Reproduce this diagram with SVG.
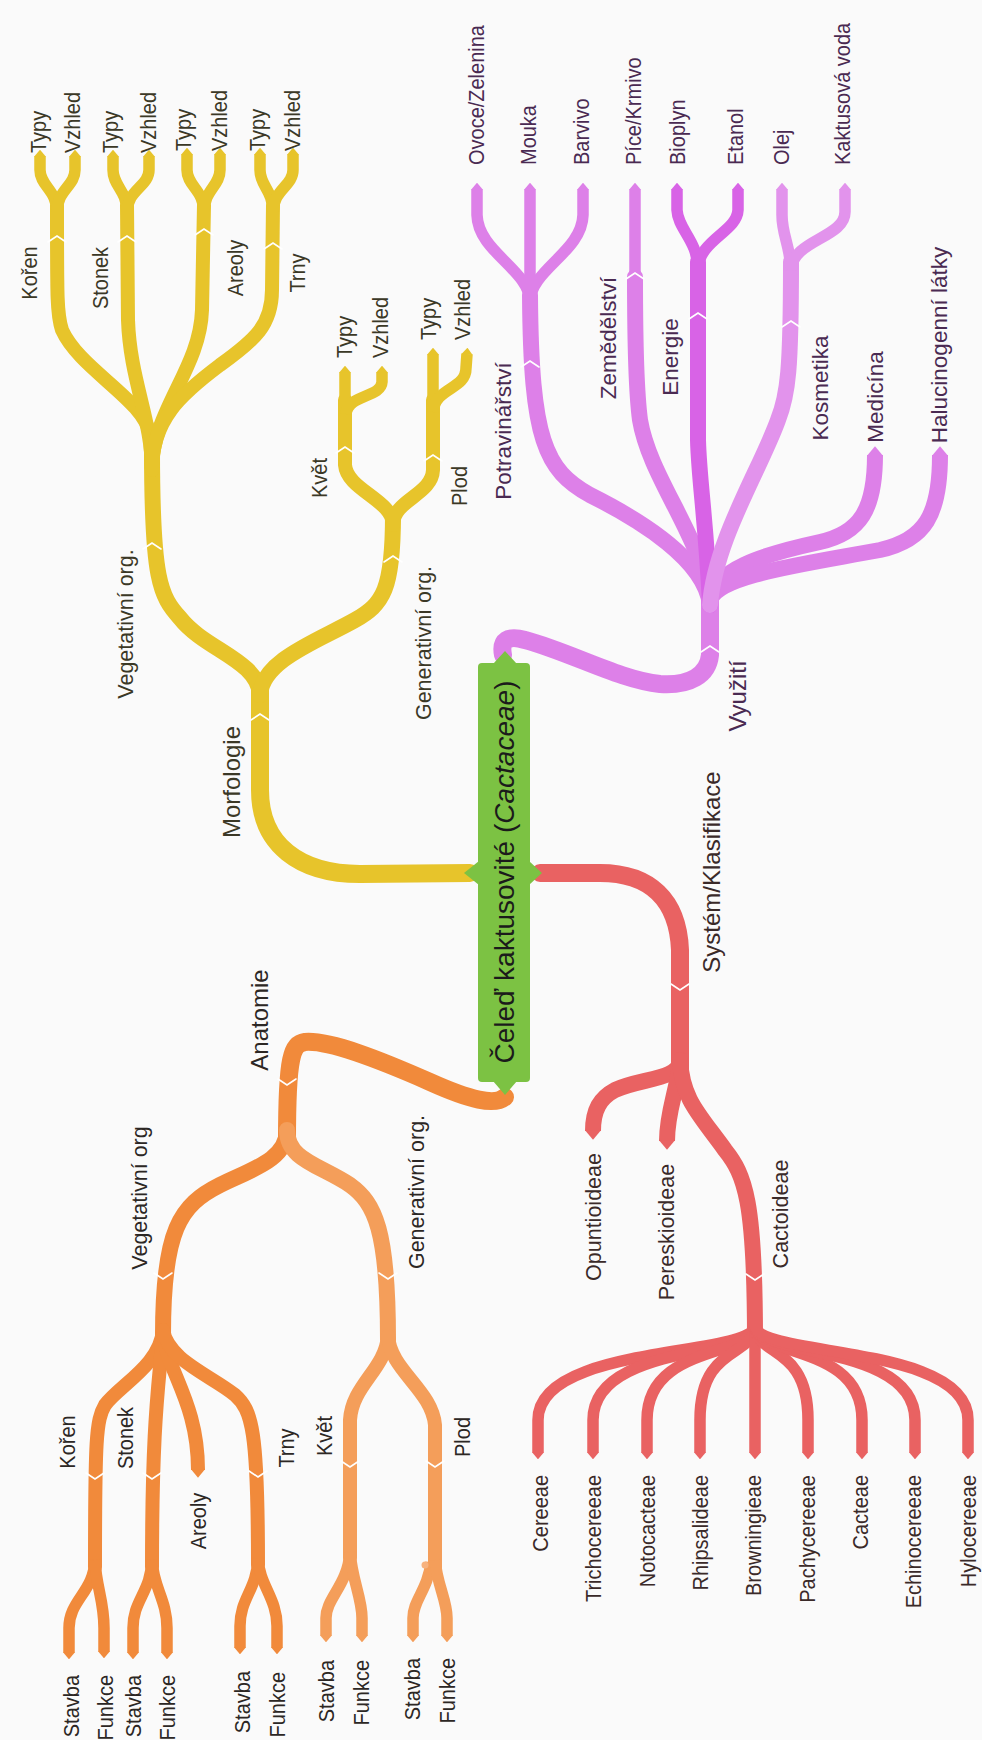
<svg xmlns="http://www.w3.org/2000/svg" xmlns:xlink="http://www.w3.org/1999/xlink" width="982" height="1740" viewBox="0 0 982 1740">
  <defs>
    <style>
      text { font-family: "Liberation Sans", Arial, sans-serif; dominant-baseline: central; }
      .t0 { font-size: 28px; text-anchor: middle; fill: #1b1b1b; }
      .t1 { font-size: 24px; text-anchor: middle; }
      .t2 { font-size: 21.5px; text-anchor: middle; }
      .t2v { font-size: 22.5px; text-anchor: middle; }
      .t3 { font-size: 20px; text-anchor: middle; }
      .ts { font-size: 20px; text-anchor: start; }
      .te { font-size: 20px; text-anchor: end; }
      .yt { fill: #3b3826; }
      .pt { fill: #4a2a52; }
      .ot { fill: #2c2724; }
      .rt { fill: #3a2a29; }
      .w1 { stroke-width: 18; }
      .w2 { stroke-width: 16; }
      .w3 { stroke-width: 14; }
      .w4 { stroke-width: 11.5; }
      .lf { stroke-linecap: butt; }
      .yel { stroke: #E7C42B; }
      .pur { stroke: #DD80E8; }
      .pur2 { stroke: #D863E6; }
      .pur3 { stroke: #E293EC; }
      .ora { stroke: #F18A3B; }
      .ora2 { stroke: #F49E5A; }
      .red { stroke: #E96262; }
      .yel .lf { marker-end: url(#tipY); }
      .pur .lf { marker-end: url(#tipP); }
      .pur2 .lf { marker-end: url(#tipP2); }
      .pur3 .lf { marker-end: url(#tipP3); }
      .ora .lf { marker-end: url(#tipO); }
      .ora2 .lf { marker-end: url(#tipO2); }
      .red .lf { marker-end: url(#tipR); }
      .sep { fill: none; stroke: #ffffff; stroke-width: 1.6; stroke-linejoin: miter; }
    </style>
    <!-- pointed branch ends -->
    <marker id="tipY" viewBox="0 -5 6 10" refX="0.5" refY="0" markerWidth="0.6" markerHeight="1" orient="auto"><path d="M0 -5 L6 0 L0 5 Z" fill="#E7C42B"/></marker>
    <marker id="tipP" viewBox="0 -5 6 10" refX="0.5" refY="0" markerWidth="0.6" markerHeight="1" orient="auto"><path d="M0 -5 L6 0 L0 5 Z" fill="#DD80E8"/></marker>
    <marker id="tipP2" viewBox="0 -5 6 10" refX="0.5" refY="0" markerWidth="0.6" markerHeight="1" orient="auto"><path d="M0 -5 L6 0 L0 5 Z" fill="#D863E6"/></marker>
    <marker id="tipP3" viewBox="0 -5 6 10" refX="0.5" refY="0" markerWidth="0.6" markerHeight="1" orient="auto"><path d="M0 -5 L6 0 L0 5 Z" fill="#E293EC"/></marker>
    <marker id="tipO" viewBox="0 -5 6 10" refX="0.5" refY="0" markerWidth="0.6" markerHeight="1" orient="auto"><path d="M0 -5 L6 0 L0 5 Z" fill="#F18A3B"/></marker>
    <marker id="tipO2" viewBox="0 -5 6 10" refX="0.5" refY="0" markerWidth="0.6" markerHeight="1" orient="auto"><path d="M0 -5 L6 0 L0 5 Z" fill="#F49E5A"/></marker>
    <marker id="tipR" viewBox="0 -5 6 10" refX="0.5" refY="0" markerWidth="0.6" markerHeight="1" orient="auto"><path d="M0 -5 L6 0 L0 5 Z" fill="#E96262"/></marker>
    <!-- node separators -->
    <path id="up" d="M-9 4 L0 -2 L9 4"/>
    <path id="dn" d="M-9 -4 L0 2 L9 -4"/>
  </defs>

  <rect width="982" height="1740" fill="#FAFAFA"/>

  <!-- branches -->
  <g id="connectors" fill="none" stroke-linecap="round" stroke-linejoin="round">
    <!-- Morfologie -->
    <g class="yel">
      <path class="w1" d="M470 873 L360 874 C300 874 260 845 260 790 L260 690"/>
      <path class="w2" d="M260 695 C258 660 205 650 180 618 C160 596 152 580 152 450"/>
      <path class="w2" d="M260 695 C262 660 320 640 355 620 C383 604 393 590 393 515"/>
      <path class="w3" d="M152 470 L150 435 C145 400 80 370 62 330 C57 315 57 300 57 205"/>
      <path class="w3" d="M152 470 C152 420 130 380 128 320 L127 205"/>
      <path class="w3" d="M152 470 C152 410 200 370 202 310 L204 205"/>
      <path class="w3" d="M152 470 C152 420 180 395 220 365 C255 340 272 325 272 290 L273 205"/>
      <path class="w4 lf" d="M57 212 C57 190 40 186 40 170 L40 156"/>
      <path class="w4 lf" d="M57 212 C57 190 75 186 75 170 L75 156"/>
      <path class="w4 lf" d="M127 212 C127 190 113 186 113 170 L113 156"/>
      <path class="w4 lf" d="M127 212 C127 190 149 186 149 170 L149 156"/>
      <path class="w4 lf" d="M204 212 C204 190 187 186 187 170 L187 154"/>
      <path class="w4 lf" d="M204 212 C204 190 220 186 220 170 L220 154"/>
      <path class="w4 lf" d="M273 212 C273 190 260 186 260 170 L260 154"/>
      <path class="w4 lf" d="M273 212 C273 190 293 186 293 170 L293 154"/>
      <path class="w3" d="M393 525 C393 500 347 490 345 465 L345 400"/>
      <path class="w3" d="M393 525 C393 500 432 495 433 470 L433 400"/>
      <path class="w4 lf" d="M345 410 L345 372"/>
      <path class="w4 lf" d="M346 414 C348 394 381 398 382 382 L382 372"/>
      <path class="w4 lf" d="M433 405 L433 354"/>
      <path class="w4 lf" d="M433 412 C435 387 466 390 466 368 L467 354"/>
    </g>
    <!-- Využití -->
    <g class="pur">
      <path class="w1" d="M503 655 C500 640 508 635 525 640 C570 652 620 680 660 684 C690 686 708 675 710 655 L710 590"/>
      <path class="w2" d="M710 605 C705 560 640 520 590 495 C545 470 531 440 530 295"/>
      <path class="w2" d="M710 605 C705 540 650 480 640 420 C636 390 635 350 635 277"/>
      <path class="w4 lf" d="M635 280 L635 189"/>
      <path class="w2 lf" d="M710 600 C715 570 760 555 820 542 C860 533 875 510 875 455"/>
      <path class="w2 lf" d="M710 600 C720 575 800 565 880 550 C925 540 940 515 940 455"/>
      <path class="w4 lf" d="M530 302 C530 270 478 252 477 215 L477 189"/>
      <path class="w4 lf" d="M530 302 L530 189"/>
      <path class="w4 lf" d="M530 302 C530 270 582 252 583 215 L583 189"/>
    </g>
    <g class="pur2">
      <path class="w2" d="M710 605 C706 520 699 480 698 440 L698 262"/>
      <path class="w4 lf" d="M698 270 C698 240 678 230 677 210 L677 189"/>
      <path class="w4 lf" d="M698 270 C698 240 737 232 738 210 L738 189"/>
    </g>
    <g class="pur3">
      <path class="w2" d="M710 605 C715 540 760 470 778 420 C788 395 791 370 791 262"/>
      <path class="w4 lf" d="M791 270 C790 245 782 235 782 215 L782 189"/>
      <path class="w4 lf" d="M791 270 C792 240 845 238 845 212 L845 189"/>
    </g>
    <!-- Anatomie -->
    <g class="ora">
      <path class="w1" d="M505 1097 C495 1106 470 1100 430 1082 C380 1060 330 1040 305 1042 C292 1044 287 1055 287 1140"/>
      <path class="w2" d="M287 1130 C287 1160 250 1170 220 1185 C180 1205 163 1230 163 1335"/>
      <path class="w3" d="M163 1330 C160 1365 120 1385 105 1405 C96 1420 95 1440 95 1567"/>
      <path class="w3" d="M163 1330 C160 1380 152 1410 152 1567"/>
      <path class="w3 lf" d="M163 1330 C165 1370 198 1400 198 1470"/>
      <path class="w3" d="M163 1330 C168 1360 210 1375 235 1395 C252 1410 258 1430 258 1565"/>
      <path class="w4 lf" d="M95 1560 C94 1592 69 1600 69 1628 L69 1653"/>
      <path class="w4 lf" d="M95 1560 C96 1587 104 1600 104 1628 L104 1652"/>
      <path class="w4 lf" d="M152 1560 C151 1592 133 1600 133 1628 L133 1653"/>
      <path class="w4 lf" d="M152 1560 C153 1587 167 1600 167 1628 L167 1653"/>
      <path class="w4 lf" d="M258 1558 C257 1590 240 1598 240 1626 L240 1648"/>
      <path class="w4 lf" d="M258 1558 C259 1585 277 1598 277 1626 L277 1648"/>
    </g>
    <g class="ora2">
      <path class="w2" d="M287 1130 C287 1160 320 1165 350 1185 C375 1203 388 1230 388 1340"/>
      <path class="w3" d="M388 1336 C385 1370 352 1385 350 1420 L350 1558"/>
      <path class="w3" d="M388 1336 C390 1370 432 1390 435 1425 L435 1570"/>
      <path class="w4 lf" d="M350 1552 C348 1585 326 1598 326 1618 L326 1636"/>
      <path class="w4 lf" d="M350 1552 C352 1580 362 1598 362 1618 L362 1636"/>
      <path class="w4 lf" d="M431 1562 C428 1590 413 1600 413 1618 L413 1636"/>
      <path class="w4 lf" d="M435 1560 C437 1585 447 1600 447 1618 L447 1636"/>
    </g>
    <circle cx="425" cy="1565" r="3.5" fill="#F7B27E"/>
    <!-- Systém/Klasifikace -->
    <g class="red">
      <path class="w1" d="M540 873 L600 873 C650 873 678 900 680 950 L680 1075"/>
      <path class="w2 lf" d="M680 1060 C680 1080 640 1078 615 1090 C600 1098 593 1110 593 1131"/>
      <path class="w2 lf" d="M680 1060 C678 1090 667 1110 667 1141"/>
      <path class="w2" d="M680 1060 C682 1100 700 1115 725 1150 C745 1175 755 1200 755 1340"/>
      <path class="w4 lf" d="M755 1325 C755 1358 538 1343 538 1420 L538 1453"/>
      <path class="w4 lf" d="M755 1325 C755 1358 593 1343 593 1420 L593 1453"/>
      <path class="w4 lf" d="M755 1325 C755 1358 647 1343 647 1420 L647 1453"/>
      <path class="w4 lf" d="M755 1325 C755 1358 700 1343 700 1420 L700 1453"/>
      <path class="w4 lf" d="M755 1325 L755 1453"/>
      <path class="w4 lf" d="M755 1325 C755 1358 808 1343 808 1420 L808 1453"/>
      <path class="w4 lf" d="M755 1325 C755 1358 862 1343 862 1420 L862 1453"/>
      <path class="w4 lf" d="M755 1325 C755 1358 915 1343 915 1420 L915 1453"/>
      <path class="w4 lf" d="M755 1325 C755 1358 968 1343 968 1420 L968 1453"/>
    </g>
    <!-- node separators -->
    <g class="sep">
      <use xlink:href="#up" x="260" y="716"/>
      <use xlink:href="#up" x="152" y="545"/>
      <use xlink:href="#up" x="393" y="558"/>
      <use xlink:href="#up" x="57" y="238"/>
      <use xlink:href="#up" x="127" y="238"/>
      <use xlink:href="#up" x="204" y="231"/>
      <use xlink:href="#up" x="273" y="245"/>
      <use xlink:href="#up" x="345" y="449"/>
      <use xlink:href="#up" x="433" y="457"/>
      <use xlink:href="#up" x="710" y="648"/>
      <use xlink:href="#up" x="530" y="363"/>
      <use xlink:href="#up" x="635" y="275"/>
      <use xlink:href="#up" x="698" y="315"/>
      <use xlink:href="#up" x="791" y="323"/>
      <use xlink:href="#dn" x="287" y="1083"/>
      <use xlink:href="#dn" x="163" y="1277"/>
      <use xlink:href="#dn" x="388" y="1277"/>
      <use xlink:href="#dn" x="95" y="1477"/>
      <use xlink:href="#dn" x="152" y="1477"/>
      <use xlink:href="#dn" x="258" y="1475"/>
      <use xlink:href="#dn" x="350" y="1465"/>
      <use xlink:href="#dn" x="435" y="1465"/>
      <use xlink:href="#dn" x="680" y="988"/>
      <use xlink:href="#dn" x="755" y="1278"/>
    </g>
  </g>

  <!-- central topic -->
  <g id="root">
    <polygon points="479,861 464,873 479,885" fill="#7CC243"/>
    <polygon points="529,861 542,873 529,885" fill="#7CC243"/>
    <polygon points="493,664 505,651 517,664" fill="#7CC243"/>
    <polygon points="493,1081 505,1095 517,1081" fill="#7CC243"/>
    <rect x="478" y="663" width="52" height="419" rx="4" fill="#7CC243"/>
    <text class="t0" transform="translate(504 872) rotate(-90)">Čeleď kaktusovité (<tspan font-style="italic">Cactaceae</tspan>)</text>
  </g>

  <!-- Morfologie -->
  <g id="morfologie"><text class="t1 yt" transform="translate(231 782) rotate(-90)">Morfologie</text></g>
  <g id="morf-veg"><text class="t2 yt" transform="translate(126 624) rotate(-90)">Vegetativní org.</text></g>
  <g id="morf-gen"><text class="t2 yt" transform="translate(424 643) rotate(-90)">Generativní org.</text></g>
  <g id="morf-koren"><text class="t3 yt" transform="translate(29 273) rotate(-90) scale(1 1.08)">Kořen</text></g>
  <g id="morf-stonek"><text class="t3 yt" transform="translate(100 278) rotate(-90) scale(1 1.08)">Stonek</text></g>
  <g id="morf-areoly"><text class="t3 yt" transform="translate(235 268) rotate(-90) scale(1 1.08)">Areoly</text></g>
  <g id="morf-trny"><text class="t3 yt" transform="translate(297 273) rotate(-90) scale(1 1.08)">Trny</text></g>
  <g id="morf-kvet"><text class="t3 yt" transform="translate(319 478) rotate(-90) scale(1 1.08)">Květ</text></g>
  <g id="morf-plod"><text class="t3 yt" transform="translate(459 486) rotate(-90) scale(1 1.08)">Plod</text></g>
  <g id="morf-leaves">
    <text class="ts yt" transform="translate(38 153) rotate(-90) scale(1 1.08)">Typy</text>
    <text class="ts yt" transform="translate(72 153) rotate(-90) scale(1 1.08)">Vzhled</text>
    <text class="ts yt" transform="translate(110 153) rotate(-90) scale(1 1.08)">Typy</text>
    <text class="ts yt" transform="translate(148 153) rotate(-90) scale(1 1.08)">Vzhled</text>
    <text class="ts yt" transform="translate(183 151) rotate(-90) scale(1 1.08)">Typy</text>
    <text class="ts yt" transform="translate(219 151) rotate(-90) scale(1 1.08)">Vzhled</text>
    <text class="ts yt" transform="translate(257 151) rotate(-90) scale(1 1.08)">Typy</text>
    <text class="ts yt" transform="translate(292 151) rotate(-90) scale(1 1.08)">Vzhled</text>
    <text class="ts yt" transform="translate(344 358) rotate(-90) scale(1 1.08)">Typy</text>
    <text class="ts yt" transform="translate(380 358) rotate(-90) scale(1 1.08)">Vzhled</text>
    <text class="ts yt" transform="translate(428 340) rotate(-90) scale(1 1.08)">Typy</text>
    <text class="ts yt" transform="translate(462 340) rotate(-90) scale(1 1.08)">Vzhled</text>
  </g>

  <!-- Využití -->
  <g id="vyuziti"><text class="t1 pt" transform="translate(737 696) rotate(-90)">Využití</text></g>
  <g id="vy-potrav"><text class="t2v pt" transform="translate(503 431) rotate(-90)">Potravinářství</text></g>
  <g id="vy-zemed"><text class="t2v pt" transform="translate(608 338) rotate(-90)">Zemědělství</text></g>
  <g id="vy-energie"><text class="t2v pt" transform="translate(670 357) rotate(-90)">Energie</text></g>
  <g id="vy-kosmetika"><text class="t2v pt" transform="translate(820 388) rotate(-90)">Kosmetika</text></g>
  <g id="vy-medicina"><text class="t2v pt" transform="translate(875 397) rotate(-90)">Medicína</text></g>
  <g id="vy-haluc"><text class="t2v pt" transform="translate(939 345) rotate(-90)">Halucinogenní látky</text></g>
  <g id="vy-leaves">
    <text class="ts pt" transform="translate(476 165) rotate(-90) scale(1 1.08)">Ovoce/Zelenina</text>
    <text class="ts pt" transform="translate(528 165) rotate(-90) scale(1 1.08)">Mouka</text>
    <text class="ts pt" transform="translate(581 165) rotate(-90) scale(1 1.08)">Barvivo</text>
    <text class="ts pt" transform="translate(633 165) rotate(-90) scale(1 1.08)">Píce/Krmivo</text>
    <text class="ts pt" transform="translate(677 165) rotate(-90) scale(1 1.08)">Bioplyn</text>
    <text class="ts pt" transform="translate(735 165) rotate(-90) scale(1 1.08)">Etanol</text>
    <text class="ts pt" transform="translate(781 165) rotate(-90) scale(1 1.08)">Olej</text>
    <text class="ts pt" transform="translate(842 165) rotate(-90) scale(1 1.08)">Kaktusová voda</text>
  </g>

  <!-- Anatomie -->
  <g id="anatomie"><text class="t1 ot" transform="translate(259 1020) rotate(-90)">Anatomie</text></g>
  <g id="an-veg"><text class="t2 ot" transform="translate(140 1198) rotate(-90)">Vegetativní org</text></g>
  <g id="an-gen"><text class="t2 ot" transform="translate(417 1192) rotate(-90)">Generativní org.</text></g>
  <g id="an-koren"><text class="t3 ot" transform="translate(67 1442) rotate(-90) scale(1 1.08)">Kořen</text></g>
  <g id="an-stonek"><text class="t3 ot" transform="translate(125 1438) rotate(-90) scale(1 1.08)">Stonek</text></g>
  <g id="an-areoly"><text class="t3 ot" transform="translate(198 1521) rotate(-90) scale(1 1.08)">Areoly</text></g>
  <g id="an-trny"><text class="t3 ot" transform="translate(286 1448) rotate(-90) scale(1 1.08)">Trny</text></g>
  <g id="an-kvet"><text class="t3 ot" transform="translate(324 1436) rotate(-90) scale(1 1.08)">Květ</text></g>
  <g id="an-plod"><text class="t3 ot" transform="translate(462 1437) rotate(-90) scale(1 1.08)">Plod</text></g>
  <g id="an-leaves">
    <text class="te ot" transform="translate(71 1675) rotate(-90) scale(1 1.08)">Stavba</text>
    <text class="te ot" transform="translate(105 1675) rotate(-90) scale(1 1.08)">Funkce</text>
    <text class="te ot" transform="translate(133 1675) rotate(-90) scale(1 1.08)">Stavba</text>
    <text class="te ot" transform="translate(167 1675) rotate(-90) scale(1 1.08)">Funkce</text>
    <text class="te ot" transform="translate(242 1671) rotate(-90) scale(1 1.08)">Stavba</text>
    <text class="te ot" transform="translate(277 1672) rotate(-90) scale(1 1.08)">Funkce</text>
    <text class="te ot" transform="translate(326 1660) rotate(-90) scale(1 1.08)">Stavba</text>
    <text class="te ot" transform="translate(361 1660) rotate(-90) scale(1 1.08)">Funkce</text>
    <text class="te ot" transform="translate(412 1658) rotate(-90) scale(1 1.08)">Stavba</text>
    <text class="te ot" transform="translate(447 1658) rotate(-90) scale(1 1.08)">Funkce</text>
  </g>

  <!-- Systém/Klasifikace -->
  <g id="system"><text class="t1 rt" transform="translate(711 872) rotate(-90)">Systém/Klasifikace</text></g>
  <g id="sys-opunt"><text class="t2 rt" transform="translate(594 1217) rotate(-90)">Opuntioideae</text></g>
  <g id="sys-peresk"><text class="t2 rt" transform="translate(667 1232) rotate(-90)">Pereskioideae</text></g>
  <g id="sys-cacto"><text class="t2 rt" transform="translate(781 1214) rotate(-90)">Cactoideae</text></g>
  <g id="sys-tribes">
    <text class="te rt" transform="translate(540 1475) rotate(-90) scale(1 1.08)">Cereeae</text>
    <text class="te rt" transform="translate(593 1475) rotate(-90) scale(1 1.08)">Trichocereeae</text>
    <text class="te rt" transform="translate(647 1475) rotate(-90) scale(1 1.08)">Notocacteae</text>
    <text class="te rt" transform="translate(700 1475) rotate(-90) scale(1 1.08)">Rhipsalideae</text>
    <text class="te rt" transform="translate(753 1475) rotate(-90) scale(1 1.08)">Browningieae</text>
    <text class="te rt" transform="translate(807 1475) rotate(-90) scale(1 1.08)">Pachycereeae</text>
    <text class="te rt" transform="translate(860 1475) rotate(-90) scale(1 1.08)">Cacteae</text>
    <text class="te rt" transform="translate(913 1475) rotate(-90) scale(1 1.08)">Echinocereeae</text>
    <text class="te rt" transform="translate(968 1475) rotate(-90) scale(1 1.08)">Hylocereeae</text>
  </g>
</svg>
